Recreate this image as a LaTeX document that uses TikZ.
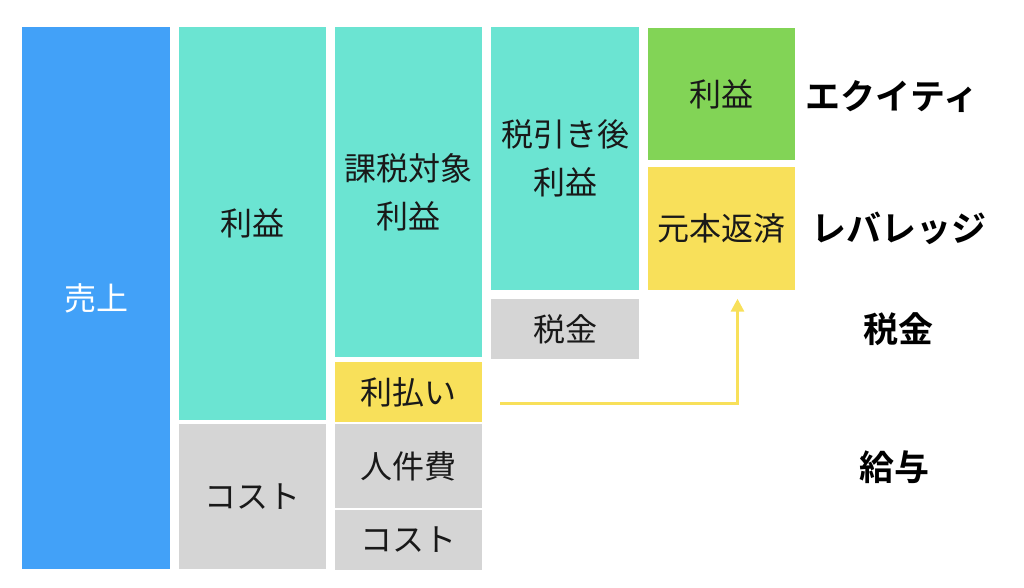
\documentclass[tikz,border=0pt]{standalone}
\usepackage{fontspec}
\setmainfont{Noto Sans CJK JP}[BoldFont={Noto Sans CJK JP Bold}]
\usetikzlibrary{arrows.meta,calc}
\definecolor{uriblu}{HTML}{42A1F8}
\definecolor{verdeacqua}{HTML}{6BE4D2}
\definecolor{grigio}{HTML}{D5D5D5}
\definecolor{giallo}{HTML}{F8E05A}
\definecolor{verde}{HTML}{82D456}
\tikzset{
  box/.style={inner sep=0pt, minimum width=147.5pt, text width=147.5pt, align=center,
    font=\fontsize{32}{48}\selectfont, text=black!90},
  etichetta/.style={inner sep=0pt, font=\fontsize{35}{40}\selectfont\bfseries}
}
\begin{document}
\begin{tikzpicture}[x=1pt,y=1pt]
    \useasboundingbox (0,0) rectangle (1024,587);
    % colonna 1
    \node [box, fill=uriblu, minimum height=542pt, text=white] (uriage) at (96,289) {売上};
    % colonna 2
    \node [box, fill=verdeacqua, minimum height=393pt] (rieki2) at (252.5,363.5) {利益};
    \node [box, fill=grigio, minimum height=145pt] (cost2) at (252.5,90.5) {コスト};
    % colonna 3
    \node [box, fill=verdeacqua, minimum height=330.5pt] (kazei) at (408.5,395) {課税対象\\利益};
    \node [box, fill=giallo, minimum height=60pt] (ribarai) at (408.5,195) {利払い};
    \node [box, fill=grigio, minimum height=83.5pt] (jinken) at (408.5,121) {人件費};
    \node [box, fill=grigio, minimum height=59.5pt] (cost3) at (408.5,47) {コスト};
    % colonna 4
    \node [box, fill=verdeacqua, minimum height=263pt] (zeibiki) at (565,428.5) {税引き後\\利益};
    \node [box, fill=grigio, minimum height=60.5pt] (zeikin) at (565,258) {税金};
    % colonna 5
    \node [box, fill=verde, minimum height=132pt] (rieki5) at (721.5,493) {利益};
    \node [box, fill=giallo, minimum height=122pt] (genpon) at (721.5,358.5) {元本返済};
    % etichette
    \node [etichetta] (equity) at (892,490) {エクイティ};
    \node [etichetta] (leverage) at (899,359) {レバレッジ};
    \node [etichetta] (zei) at (898,258) {税金};
    \node [etichetta] (kyuyo) at (894,120) {給与};
    % freccia
    \coordinate (da) at ($(ribarai.east)+(18,-11)$);
    \coordinate (a) at ($(genpon.south)+(16,-9)$);
    \draw [giallo, line width=3pt, -{Triangle[width=13pt,length=13pt]}] (da) -| (a);
\end{tikzpicture}
\end{document}
